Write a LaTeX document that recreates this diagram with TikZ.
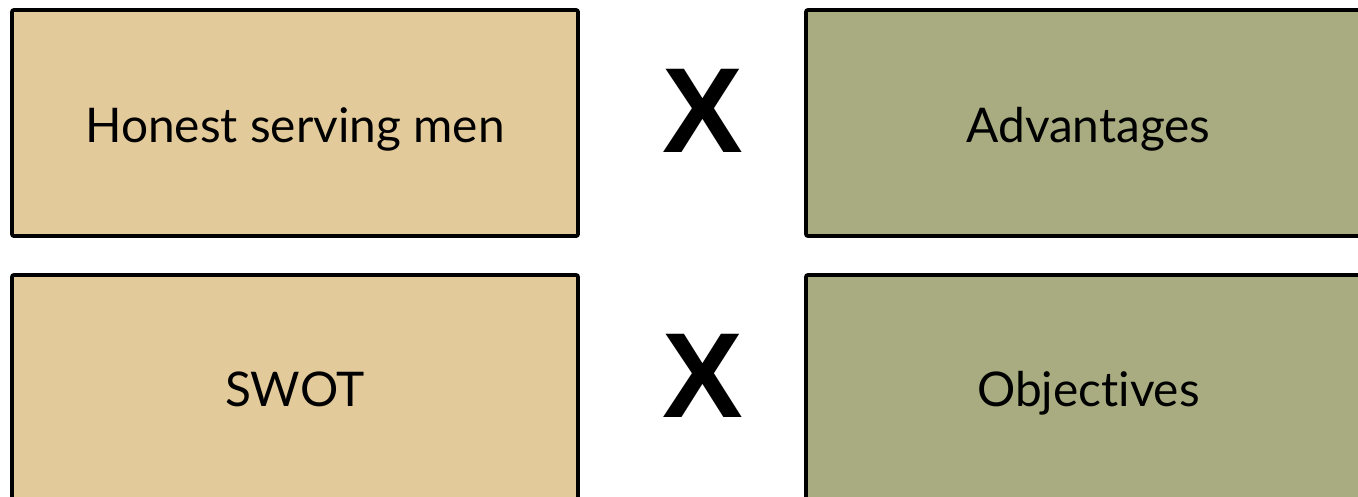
\documentclass[tikz,border=0pt]{standalone}
\usepackage{fontspec}
\setmainfont{Lato}[Ligatures={TeX,NoCommon}]
\newfontfamily\xfont{Liberation Sans}
\definecolor{tanfill}{RGB}{227,202,154}
\definecolor{olivefill}{RGB}{168,172,128}
\begin{document}
\begin{tikzpicture}[x=1pt,y=-1pt,
  box/.style={draw=black,line width=3.8pt,rounded corners=2pt,inner sep=0pt},
  lbl/.style={font=\fontsize{47.8}{56}\selectfont,text=black,anchor=base,inner sep=0pt},
  times/.style={font=\xfont\bfseries\fontsize{121}{130}\selectfont,inner sep=0pt}]
\useasboundingbox (0,0) rectangle (1358,496);
\clip (0,0) rectangle (1358,496);
\fill[white] (0,0) rectangle (1358,496);
\draw[box,fill=tanfill] (12,10) rectangle (578,236);
\draw[box,fill=tanfill] (12,275) rectangle (578,510);
\draw[box,fill=olivefill] (806,10) rectangle (1375,236);
\draw[box,fill=olivefill] (806,275) rectangle (1375,510);
\node[lbl] (a) at (295,142) {Honest serving men};
\node[lbl] (b) at (295,406) {SWOT};
\node[lbl] (c) at (1088.5,142) {Advantages};
\node[lbl] (d) at (1088.5,406) {Objectives};
\node[times] (x1) at (703,110.5) {X};
\node[times] (x2) at (703,375.5) {X};
\end{tikzpicture}
\end{document}
